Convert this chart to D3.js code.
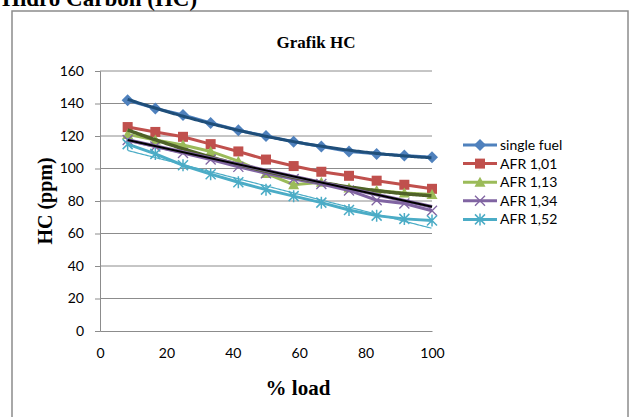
<!DOCTYPE html>
<html><head><meta charset="utf-8">
<script src="https://cdn.jsdelivr.net/npm/d3@7"></script>
<style>body{margin:0;background:#fff}svg{display:block}</style>
</head><body>
<svg id="c" width="632" height="417"></svg>
<script>
const loads = [8.33, 16.67, 25, 33.33, 41.67, 50, 58.33, 66.67, 75, 83.33, 91.67, 100];
const singleFuel = [142, 137, 133, 128, 123.5, 120, 116.5, 113.5, 110.5, 109, 108, 107];
const afr101 = [125.5, 122.5, 119.5, 115, 110.5, 105.5, 101.5, 98, 95.5, 92.5, 90, 87.5];
const afr113 = [121, 117.5, 114.5, 110.5, 104.5, 97, 90, 91.5, 88, 86.5, 85, 84];
const afr134 = [117.5, 113.5, 109.5, 105.5, 101, 97, 93.5, 90.5, 86.5, 80.5, 78.5, 74];
const afr152 = [115, 109, 102, 96.5, 91.5, 87, 83, 79, 74.5, 71, 69, 68];
// black straight trend line (start and end load, value)
const blackTrendLoads = [8.33, 100];
const blackTrendValues = [117.5, 76.5];
const seriesNames = ["single fuel", "AFR 1,01", "AFR 1,13", "AFR 1,34", "AFR 1,52"];
const yTicks = [0, 20, 40, 60, 80, 100, 120, 140, 160];
const xTicks = [0, 20, 40, 60, 80, 100];

const svg = d3.select("#c");
const x = d3.scaleLinear().domain([0, 100]).range([100, 432]);
const y = d3.scaleLinear().domain([0, 160]).range([331, 71]);

svg.append("rect").attr("x", 12).attr("y", 11).attr("width", 616).attr("height", 420)
  .attr("fill", "none").attr("stroke", "#8c8c8c").attr("stroke-width", 1.5);

svg.append("text").attr("x", 2).attr("y", 6).attr("font-family", "Liberation Serif")
  .attr("font-weight", "bold").attr("font-size", 23).attr("fill", "#000").text("Hidro Carbon (HC)");

svg.append("text").attr("x", 316).attr("y", 48).attr("text-anchor", "middle")
  .attr("font-family", "Liberation Serif").attr("font-weight", "bold").attr("font-size", 17)
  .text("Grafik HC");

svg.append("g").selectAll("line").data(yTicks.filter(d => d > 0)).join("line")
  .attr("x1", x(0)).attr("x2", x(100)).attr("y1", d => y(d)).attr("y2", d => y(d))
  .attr("stroke", "#8c8c8c").attr("stroke-width", 1);

const yAxis = svg.append("g").attr("transform", `translate(${x(0)},0)`)
  .call(d3.axisLeft(y).tickValues(yTicks).tickSize(5).tickPadding(11));
const xAxis = svg.append("g").attr("transform", `translate(0,${y(0)})`)
  .call(d3.axisBottom(x).tickValues(xTicks).tickSize(0).tickPadding(17));
[yAxis, xAxis].forEach(a => {
  a.select(".domain").attr("stroke", "#8c8c8c").attr("stroke-width", 1);
  a.selectAll(".tick line").attr("stroke", "#8c8c8c");
  a.selectAll("text").attr("font-family", "Lato").attr("font-size", 14).attr("fill", "#000");
});

svg.append("text").attr("transform", "translate(52,201) rotate(-90)").attr("text-anchor", "middle")
  .attr("font-family", "Liberation Serif").attr("font-weight", "bold").attr("font-size", 20).text("HC (ppm)");
svg.append("text").attr("x", 298).attr("y", 395).attr("text-anchor", "middle")
  .attr("font-family", "Liberation Serif").attr("font-weight", "bold").attr("font-size", 21).text("% load");

const colors = ["#4F81BD", "#C0504D", "#9BBB59", "#8064A2", "#4BACC6"];
const allData = [singleFuel, afr101, afr113, afr134, afr152];

function marker(g, i, cx, cy) {
  const c = colors[i];
  if (i === 0) g.append("path").attr("d", `M${cx},${cy-6}L${cx+6},${cy}L${cx},${cy+6}L${cx-6},${cy}Z`).attr("fill", c);
  else if (i === 1) g.append("rect").attr("x", cx-5).attr("y", cy-5).attr("width", 10).attr("height", 10).attr("fill", c);
  else if (i === 2) g.append("path").attr("d", `M${cx},${cy-5.5}L${cx+5.5},${cy+4.5}L${cx-5.5},${cy+4.5}Z`).attr("fill", c);
  else if (i === 3) g.append("path").attr("d", `M${cx-5},${cy-5}L${cx+5},${cy+5}M${cx+5},${cy-5}L${cx-5},${cy+5}`).attr("stroke", c).attr("stroke-width", 1.3).attr("fill", "none");
  else g.append("path").attr("d", `M${cx-5},${cy-5}L${cx+5},${cy+5}M${cx+5},${cy-5}L${cx-5},${cy+5}M${cx},${cy-6}L${cx},${cy+6}`).attr("stroke", c).attr("stroke-width", 1.5).attr("fill", "none");
}

const line = d3.line().x(d => x(d[0])).y(d => y(d[1]));
allData.forEach((vals, i) => {
  const pts = loads.map((l, k) => [l, vals[k]]);
  const g = svg.append("g");
  g.append("path").attr("d", line(pts)).attr("fill", "none").attr("stroke", colors[i]).attr("stroke-width", 3);
  pts.forEach(p => marker(g, i, x(p[0]), y(p[1])));
});

function polyfit(xs, ys, order) {
  const n = order + 1;
  const A = Array.from({length: n}, () => new Array(n + 1).fill(0));
  xs.forEach((xv, k) => {
    for (let r = 0; r < n; r++) {
      for (let c = 0; c < n; c++) A[r][c] += Math.pow(xv, r + c);
      A[r][n] += ys[k] * Math.pow(xv, r);
    }
  });
  for (let i = 0; i < n; i++) {
    let m = i;
    for (let r = i + 1; r < n; r++) if (Math.abs(A[r][i]) > Math.abs(A[m][i])) m = r;
    [A[i], A[m]] = [A[m], A[i]];
    for (let r = 0; r < n; r++) if (r !== i) {
      const f = A[r][i] / A[i][i];
      for (let c = i; c <= n; c++) A[r][c] -= f * A[i][c];
    }
  }
  const coef = A.map((row, i) => row[n] / row[i]);
  return xv => coef.reduce((s, c, p) => s + c * Math.pow(xv, p), 0);
}
const xs = d3.range(loads[0], 100.01, 0.5);
function drawFit(data, order, color, w) {
  const f = polyfit(loads, data, order);
  svg.append("path").attr("d", line(xs.map(v => [v, f(v)]))).attr("fill", "none")
    .attr("stroke", color).attr("stroke-width", w);
}
drawFit(singleFuel, 2, "#1F4E79", 3);
drawFit(afr113, 2, "#4F6228", 3.5);
svg.append("path").attr("d", line(blackTrendLoads.map((l, k) => [l, blackTrendValues[k]])))
  .attr("fill", "none").attr("stroke", "#8064A2").attr("stroke-width", 3.6);
svg.append("path").attr("d", line(blackTrendLoads.map((l, k) => [l, blackTrendValues[k]])))
  .attr("fill", "none").attr("stroke", "#000").attr("stroke-width", 2);
drawFit(afr152, 1, "#4BACC6", 1.2);

const lg = svg.append("g");
seriesNames.forEach((name, i) => {
  const ly = 145 + i * 18.6;
  lg.append("line").attr("x1", 463).attr("x2", 497).attr("y1", ly).attr("y2", ly)
    .attr("stroke", colors[i]).attr("stroke-width", 3);
  marker(lg, i, 480, ly);
  lg.append("text").attr("x", 500).attr("y", ly + 5).attr("font-family", "Lato").attr("font-size", 14).text(name);
});
</script>
</body></html>
